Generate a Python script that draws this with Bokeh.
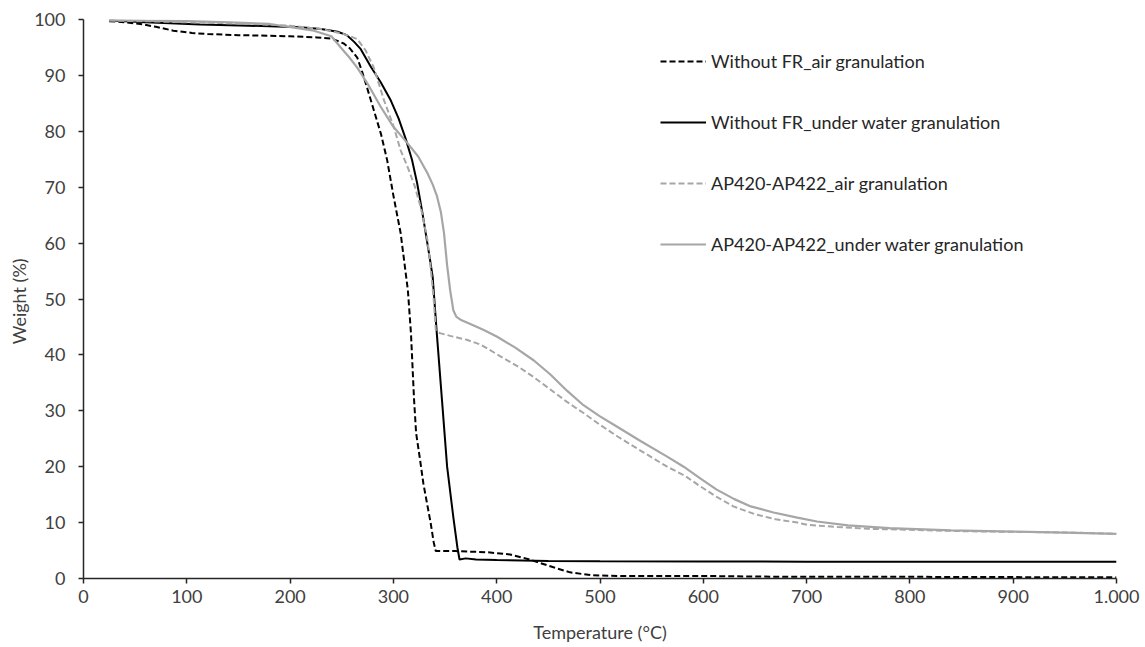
from bokeh.plotting import figure
from bokeh.models import Range1d, FixedTicker, Legend, LegendItem
from bokeh.embed import file_html
from bokeh.resources import INLINE

# ---- data ----
t_wofr_air = [25, 40, 55, 70, 87, 105, 120, 150, 178, 200, 226, 240, 252, 258, 265, 270, 275, 281, 288, 294,
              300, 307, 314, 317, 320, 322, 326, 329, 333, 336, 339, 341, 360, 391, 413, 430, 455, 471, 491,
              520, 600, 650, 700, 800, 900, 1000]
w_wofr_air = [99.7, 99.5, 99.2, 98.7, 98.0, 97.6, 97.4, 97.2, 97.1, 97.0, 96.8, 96.6, 95.7, 94.8, 93.2, 90.5,
              87.5, 83.8, 79.5, 74.8, 68.5, 61.8, 51.6, 43.9, 32.0, 26.0, 21.0, 17.0, 13.0, 10.0, 6.5, 4.9,
              4.9, 4.7, 4.3, 3.5, 2.0, 1.1, 0.6, 0.45, 0.45, 0.35, 0.3, 0.3, 0.25, 0.2]

t_wofr_uw = [25, 60, 113, 160, 210, 230, 246, 255, 262, 268, 278, 288, 297, 305, 312, 318, 323, 328, 334, 338,
             342, 347, 352, 358, 362, 364, 370, 380, 400, 450, 500, 600, 700, 800, 900, 1000]
w_wofr_uw = [99.8, 99.5, 99.1, 98.9, 98.6, 98.3, 97.8, 97.2, 96.0, 94.8, 91.6, 88.7, 85.7, 82.3, 78.6, 74.9,
             70.7, 65.5, 58.7, 54.0, 43.9, 32.0, 20.0, 11.0, 5.5, 3.4, 3.6, 3.4, 3.3, 3.15, 3.1, 3.05, 3.0,
             3.0, 3.0, 3.0]

t_ap_air = [25, 60, 100, 150, 200, 230, 250, 258, 265, 273, 281, 291, 300, 307, 314, 321, 327, 333, 336, 339,
            341, 345, 355, 371, 385, 404, 420, 436, 452, 468, 484, 500, 517, 540, 565, 582, 597, 613, 629, 650,
            670, 691, 701, 730, 759, 800, 856, 920, 960, 1000]
w_ap_air = [99.8, 99.7, 99.5, 99.3, 98.9, 98.3, 97.5, 97.0, 96.5, 94.5, 91.4, 85.5, 81.0, 76.6, 73.5, 70.0,
            66.0, 60.5, 55.7, 50.0, 44.5, 43.9, 43.4, 42.7, 41.8, 39.7, 38.0, 36.0, 33.8, 31.6, 29.6, 27.5,
            25.4, 22.8, 20.0, 18.4, 16.5, 14.6, 12.9, 11.5, 10.6, 10.0, 9.6, 9.2, 8.9, 8.7, 8.45, 8.3, 8.2, 8.0]

t_ap_uw = [25, 60, 100, 142, 180, 223, 240, 249, 257, 265, 276, 288, 300, 314, 324, 333, 338, 342, 346, 349,
           352, 355, 358, 361, 365, 375, 387, 400, 418, 436, 452, 468, 484, 500, 517, 540, 565, 581, 597, 613,
           630, 646, 668, 691, 710, 740, 780, 840, 900, 950, 1000]
w_ap_uw = [99.9, 99.8, 99.7, 99.5, 99.2, 98.0, 97.0, 95.0, 93.3, 91.4, 88.2, 84.3, 80.8, 77.8, 75.5, 72.5,
           70.5, 68.5, 65.5, 61.8, 56.0, 51.5, 48.0, 46.8, 46.3, 45.5, 44.5, 43.3, 41.3, 39.0, 36.5, 33.6,
           31.0, 29.0, 27.1, 24.5, 21.8, 20.0, 17.9, 15.9, 14.2, 12.9, 11.8, 10.9, 10.2, 9.5, 9.0, 8.6, 8.4,
           8.2, 8.0]

labels = ["Without FR_air granulation", "Without FR_under water granulation",
          "AP420-AP422_air granulation", "AP420-AP422_under water granulation"]
x_ticks = [0, 100, 200, 300, 400, 500, 600, 700, 800, 900, 1000]
x_tick_labels = ["0", "100", "200", "300", "400", "500", "600", "700", "800", "900", "1.000"]
y_ticks = [0, 10, 20, 30, 40, 50, 60, 70, 80, 90, 100]

FONT = "Lato"
FS = "18px"
TXT = "#404040"
AX = "#262626"
GREY = "#A6A6A6"

p = figure(width=1140, height=645, output_backend="svg", toolbar_location=None,
           x_range=Range1d(0, 1000), y_range=Range1d(0, 100),
           min_border_left=83, min_border_right=24, min_border_top=19, min_border_bottom=66)
p.outline_line_color = None
p.xgrid.grid_line_color = None
p.ygrid.grid_line_color = None

r1 = p.line(t_wofr_air, w_wofr_air, line_color="black", line_width=2, line_dash="6 3")
r2 = p.line(t_wofr_uw, w_wofr_uw, line_color="black", line_width=2)
r3 = p.line(t_ap_air, w_ap_air, line_color=GREY, line_width=2, line_dash="6 3")
r4 = p.line(t_ap_uw, w_ap_uw, line_color=GREY, line_width=2.2)

for ax in (p.xaxis[0], p.yaxis[0]):
    ax.axis_line_color = AX
    ax.axis_line_width = 1.5
    ax.major_tick_line_color = AX
    ax.major_tick_line_width = 1.5
    ax.major_tick_in = 0
    ax.major_tick_out = 5
    ax.minor_tick_line_color = None
    ax.major_label_text_font = FONT
    ax.major_label_text_font_size = FS
    ax.major_label_text_color = TXT
    ax.axis_label_text_font = FONT
    ax.axis_label_text_font_size = FS
    ax.axis_label_text_color = TXT
    ax.axis_label_text_font_style = "normal"

p.xaxis.ticker = FixedTicker(ticks=x_ticks)
p.xaxis.major_label_overrides = {t: s for t, s in zip(x_ticks, x_tick_labels)}
p.xaxis.major_label_standoff = 6
p.xaxis.axis_label = "Temperature (°C)"
p.xaxis.axis_label_standoff = 15

p.yaxis.ticker = FixedTicker(ticks=y_ticks)
p.yaxis.major_label_standoff = 13
p.yaxis.axis_label = "Weight  (%)"
p.yaxis.axis_label_standoff = 1

legend = Legend(items=[LegendItem(label=labels[i], renderers=[r]) for i, r in enumerate([r1, r2, r3, r4])],
                location=(577, 323), orientation="vertical",
                glyph_width=46, glyph_height=20, label_height=20, label_standoff=5,
                spacing=39, padding=0, margin=0,
                border_line_alpha=0, background_fill_alpha=0,
                label_text_font=FONT, label_text_font_size=FS, label_text_color="#262626")
p.add_layout(legend, "center")

open("out.html", "w").write(file_html(p, INLINE))
